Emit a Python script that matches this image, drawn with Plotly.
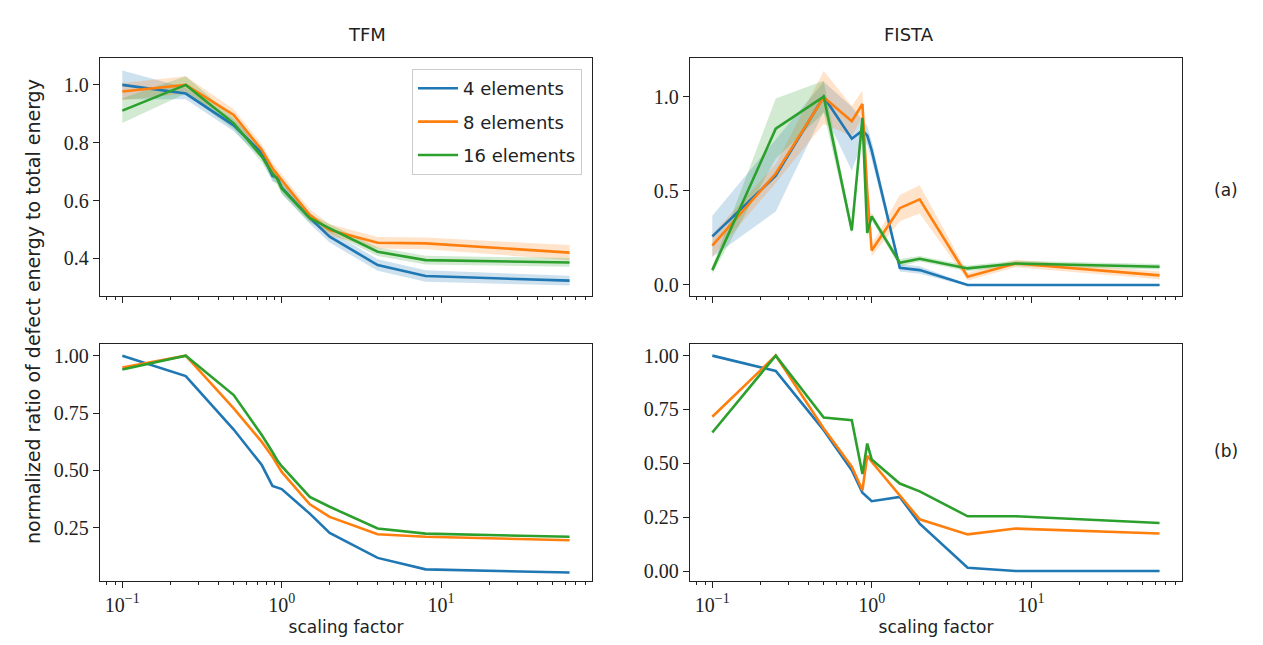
import plotly.graph_objects as go
import numpy as np

# ---------------- data ----------------
scaling = [0.1, 0.25, 0.5, 0.75, 0.875, 0.9375, 1.0, 1.5, 2.0, 4.0, 8.0, 64.0]
labels = ["4 elements", "8 elements", "16 elements"]
colors = ["#1f77b4", "#ff7f0e", "#2ca02c"]
band_colors = ["rgba(31,119,180,0.22)", "rgba(255,127,14,0.22)", "rgba(44,160,44,0.22)"]

# (a) TFM mean and spread
tfm_a_4 = [1.00, 0.97, 0.86, 0.765, 0.685, 0.68, 0.645, 0.54, 0.475, 0.377, 0.339, 0.323]
tfm_a_8 = [0.977, 1.00, 0.896, 0.775, 0.712, 0.69, 0.671, 0.55, 0.498, 0.454, 0.452, 0.42]
tfm_a_16 = [0.911, 1.00, 0.867, 0.752, 0.694, 0.675, 0.642, 0.539, 0.504, 0.423, 0.394, 0.386]
tfm_a_4_sd = [0.05, 0.02, 0.02, 0.02, 0.02, 0.02, 0.02, 0.02, 0.02, 0.02, 0.02, 0.017]
tfm_a_8_sd = [0.03, 0.03, 0.02, 0.02, 0.02, 0.02, 0.02, 0.02, 0.02, 0.02, 0.02, 0.026]
tfm_a_16_sd = [0.043, 0.03, 0.02, 0.02, 0.02, 0.02, 0.02, 0.015, 0.015, 0.015, 0.015, 0.015]

# (a) FISTA mean and spread
fista_a_4 = [0.258, 0.58, 1.00, 0.777, 0.82, 0.794, 0.715, 0.091, 0.079, 0.0, 0.0, 0.0]
fista_a_8 = [0.209, 0.592, 0.997, 0.87, 0.961, 0.50, 0.183, 0.408, 0.455, 0.044, 0.114, 0.051]
fista_a_16 = [0.079, 0.83, 1.00, 0.29, 0.888, 0.276, 0.364, 0.118, 0.139, 0.088, 0.114, 0.097]
fista_a_4_sd = [0.11, 0.19, 0.08, 0.17, 0.06, 0.05, 0.05, 0.02, 0.02, 0.005, 0.005, 0.005]
fista_a_8_sd = [0.06, 0.05, 0.14, 0.08, 0.07, 0.05, 0.03, 0.07, 0.075, 0.02, 0.02, 0.02]
fista_a_16_sd = [0.02, 0.16, 0.085, 0.02, 0.02, 0.02, 0.02, 0.02, 0.015, 0.015, 0.015, 0.015]

# (b) TFM
tfm_b_4 = [1.00, 0.911, 0.678, 0.523, 0.432, 0.425, 0.418, 0.311, 0.227, 0.118, 0.068, 0.054]
tfm_b_8 = [0.948, 1.00, 0.77, 0.624, 0.559, 0.523, 0.493, 0.352, 0.297, 0.221, 0.21, 0.195]
tfm_b_16 = [0.94, 1.00, 0.828, 0.654, 0.58, 0.544, 0.518, 0.384, 0.341, 0.246, 0.224, 0.21]

# (b) FISTA
fista_b_4 = [1.00, 0.929, 0.654, 0.468, 0.364, 0.344, 0.324, 0.344, 0.22, 0.015, 0.0, 0.0]
fista_b_8 = [0.716, 1.00, 0.662, 0.484, 0.375, 0.535, 0.507, 0.352, 0.24, 0.17, 0.197, 0.174]
fista_b_16 = [0.643, 1.00, 0.713, 0.70, 0.45, 0.592, 0.518, 0.406, 0.37, 0.254, 0.254, 0.223]

x_tickvals = [0.1, 1, 10]
x_ticktext = ["10<sup>−1</sup>", "10<sup>0</sup>", "10<sup>1</sup>"]
minor_vals = [0.08, 0.09] + [k / 10 for k in range(2, 10)] + list(range(2, 10)) + [10 * k for k in range(2, 10)]

# ---------------- figure ----------------
W, H = 1263, 645
fig = go.Figure()

serif = "'Liberation Serif', 'DejaVu Serif', 'Times New Roman', serif"
sans = "'DejaVu Sans', sans-serif"
ink = "#222222"

panels = [
    ("x", "y", [tfm_a_4, tfm_a_8, tfm_a_16], [tfm_a_4_sd, tfm_a_8_sd, tfm_a_16_sd]),
    ("x2", "y2", [fista_a_4, fista_a_8, fista_a_16], [fista_a_4_sd, fista_a_8_sd, fista_a_16_sd]),
    ("x3", "y3", [tfm_b_4, tfm_b_8, tfm_b_16], None),
    ("x4", "y4", [fista_b_4, fista_b_8, fista_b_16], None),
]

for pi, (xa, ya, series, sds) in enumerate(panels):
    if sds is not None:
        for i in range(3):
            m = np.array(series[i])
            s = np.array(sds[i])
            fig.add_trace(go.Scatter(
                x=scaling + scaling[::-1],
                y=list(m + s) + list((m - s)[::-1]),
                fill="toself", fillcolor=band_colors[i], line=dict(width=0),
                mode="lines", showlegend=False, hoverinfo="skip",
                xaxis=xa, yaxis=ya))
    for i in range(3):
        fig.add_trace(go.Scatter(
            x=scaling, y=series[i], mode="lines",
            line=dict(color=colors[i], width=2.6),
            name=labels[i], legendgroup=labels[i],
            showlegend=(pi == 0),
            xaxis=xa, yaxis=ya))

def px_x(p):
    return p / W

def px_y(p):
    return 1 - p / H

xl = [px_x(100), px_x(592)]
xr = [px_x(690), px_x(1182)]
yt = [px_y(295.7), px_y(58.3)]
yb = [px_y(580.7), px_y(344)]

axis_common = dict(
    showline=True, linecolor=ink, linewidth=1.3, mirror=True,
    ticks="outside", ticklen=6, tickwidth=1.2, tickcolor=ink,
    showgrid=False, zeroline=False,
    tickfont=dict(family=serif, size=20, color=ink),
)

xaxis_common = dict(axis_common, type="log", range=[-1.14, 1.947],
                    tickvals=x_tickvals, ticktext=x_ticktext,
                    minor=dict(tickvals=minor_vals, ticks="outside", ticklen=3.5,
                               tickwidth=1, tickcolor=ink, showgrid=False))

xtitle = dict(text="scaling factor", font=dict(family=sans, size=17, color=ink), standoff=6)

fig.update_layout(
    xaxis=dict(xaxis_common, domain=xl, anchor="y", showticklabels=False),
    xaxis2=dict(xaxis_common, domain=xr, anchor="y2", showticklabels=False),
    xaxis3=dict(xaxis_common, domain=xl, anchor="y3", title=xtitle),
    xaxis4=dict(xaxis_common, domain=xr, anchor="y4", title=xtitle),
    yaxis=dict(axis_common, domain=yt, anchor="x", range=[0.271, 1.092],
               tickvals=[0.4, 0.6, 0.8, 1.0], ticktext=["0.4", "0.6", "0.8", "1.0"]),
    yaxis2=dict(axis_common, domain=yt, anchor="x2", range=[-0.057, 1.204],
                tickvals=[0.0, 0.5, 1.0], ticktext=["0.0", "0.5", "1.0"]),
    yaxis3=dict(axis_common, domain=yb, anchor="x3", range=[0.0185, 1.051],
                tickvals=[0.25, 0.5, 0.75, 1.0], ticktext=["0.25", "0.50", "0.75", "1.00"]),
    yaxis4=dict(axis_common, domain=yb, anchor="x4", range=[-0.045, 1.054],
                tickvals=[0.0, 0.25, 0.5, 0.75, 1.0], ticktext=["0.00", "0.25", "0.50", "0.75", "1.00"]),
    width=W, height=H,
    margin=dict(l=0, r=0, t=0, b=0),
    paper_bgcolor="white", plot_bgcolor="white",
    showlegend=True,
    legend=dict(
        x=px_x(582), y=px_y(69), xanchor="right", yanchor="top",
        bgcolor="rgba(255,255,255,0.9)", bordercolor="#cccccc", borderwidth=1,
        font=dict(family=sans, size=18, color=ink),
        tracegroupgap=7, itemwidth=40,
    ),
    annotations=[
        dict(text="TFM", x=px_x(346), y=px_y(22), xref="paper", yref="paper",
             showarrow=False, font=dict(family=sans, size=18, color=ink)),
        dict(text="FISTA", x=px_x(936), y=px_y(22), xref="paper", yref="paper",
             showarrow=False, font=dict(family=sans, size=18, color=ink)),
        dict(text="(a)", x=px_x(1240), y=px_y(178), xref="paper", yref="paper",
             showarrow=False, font=dict(family=sans, size=17, color=ink)),
        dict(text="(b)", x=px_x(1240), y=px_y(463), xref="paper", yref="paper",
             showarrow=False, font=dict(family=sans, size=17, color=ink)),
        dict(text="normalized ratio of defect energy to total energy",
             x=px_x(20), y=px_y(312), xref="paper", yref="paper", textangle=-90,
             showarrow=False, font=dict(family=sans, size=19, color=ink)),
    ],
)

fig.write_html("out.html")
